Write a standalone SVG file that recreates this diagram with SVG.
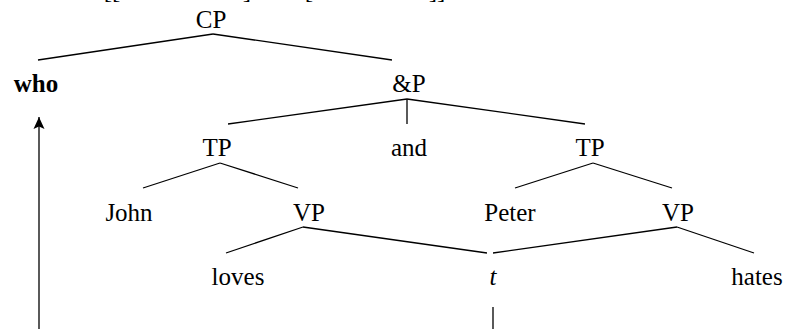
<svg xmlns="http://www.w3.org/2000/svg" width="789" height="329" viewBox="0 0 789 329">
<style>
.t text{font-size:25px;fill:#000;text-anchor:middle}
.b{font-weight:bold}
.i{font-style:italic}
.l{text-anchor:start}
#edges line,#edges path{stroke:#000;stroke-width:1.3;fill:none}
</style>
<defs>
<marker id="ah" markerUnits="userSpaceOnUse" markerWidth="16" markerHeight="16" viewBox="-14 -8 16 16" refX="0" refY="0" orient="auto">
<path d="M0,0 L-12,-5.5 L-9.5,0 L-12,5.5 Z" fill="#000" stroke="none"/>
</marker>
</defs>
<rect width="789" height="329" fill="#fff"/>
<g class="t" style="font-family:'Liberation Serif','Times New Roman',Times,'DejaVu Serif',serif">
<g id="top-brackets">
<text class="l" x="112" y="-2">[[</text>
<text class="l" x="247" y="-2">]</text>
<text class="l" x="309" y="-2">[</text>
<text class="l" x="437" y="-2">]]</text>
</g>
<g id="n-CP"><text x="211" y="28">CP</text></g>
<g id="n-who"><text class="b" x="36" y="92">who</text></g>
<g id="n-andP"><text x="409" y="92">&amp;P</text></g>
<g id="n-TP1"><text x="217" y="156">TP</text></g>
<g id="n-and"><text x="409" y="156">and</text></g>
<g id="n-TP2"><text x="590" y="156">TP</text></g>
<g id="n-John"><text x="129" y="221">John</text></g>
<g id="n-VP1"><text x="309" y="221">VP</text></g>
<g id="n-Peter"><text x="510" y="221">Peter</text></g>
<g id="n-VP2"><text x="678" y="221">VP</text></g>
<g id="n-loves"><text x="238" y="285">loves</text></g>
<g id="n-t"><text class="i" x="493" y="285">t</text></g>
<g id="n-hates"><text x="757" y="285">hates</text></g>
</g>
<g id="edges">
<line x1="213" y1="34" x2="38" y2="60"/>
<line x1="213" y1="34" x2="392" y2="60"/>
<line x1="407" y1="99" x2="228" y2="124"/>
<line x1="407" y1="99" x2="407" y2="124"/>
<line x1="407" y1="99" x2="585" y2="124"/>
<line x1="220" y1="163" x2="143" y2="188"/>
<line x1="220" y1="163" x2="298" y2="188"/>
<line x1="593" y1="163" x2="515" y2="188"/>
<line x1="593" y1="163" x2="672" y2="188"/>
<line x1="303" y1="227" x2="226" y2="253"/>
<line x1="303" y1="227" x2="487" y2="253"/>
<line x1="677" y1="227" x2="493" y2="253"/>
<line x1="677" y1="227" x2="754" y2="253"/>
<path d="M493,307 V329"/>
<path d="M39,329 V117" marker-end="url(#ah)"/>
</g>
</svg>
